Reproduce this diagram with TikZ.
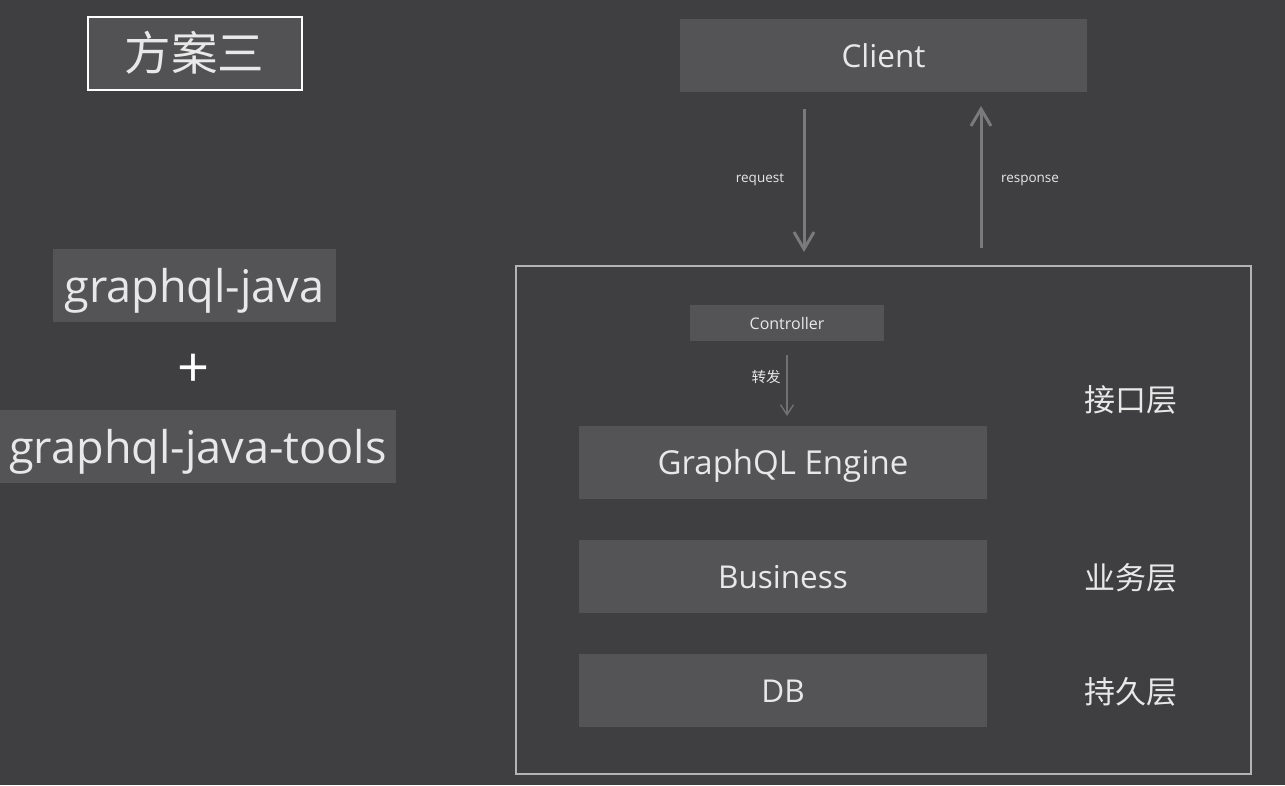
\documentclass[tikz,border=0pt]{standalone}
\usepackage{fontspec}
\usepackage{xcolor}
\usetikzlibrary{arrows.meta}
\setmainfont{Open Sans}
\newfontfamily\cjk{Noto Sans CJK SC}
\definecolor{bg}{HTML}{3F3E40}
\definecolor{boxfill}{HTML}{545456}
\definecolor{txt}{HTML}{E8E8E8}
\definecolor{arrowgray}{HTML}{7A7A7C}
\definecolor{framegray}{HTML}{B4B4B4}
\tikzset{
  layerbox/.style={fill=boxfill, text=txt, minimum width=408pt, minimum height=73pt, inner sep=0pt, text height=23pt, text depth=0pt, font=\fontsize{31.5}{31.5}\selectfont},
  libbox/.style={fill=boxfill, text=txt, minimum height=73pt, inner sep=0pt, text height=33pt, text depth=0pt, font=\fontsize{45}{45}\selectfont},
  layername/.style={text=txt, font=\cjk\fontsize{31}{31}\selectfont},
  bigarrow/.style={draw=arrowgray, line width=3pt, -{Straight Barb[length=17pt,width=20pt]}},
  smallarrow/.style={draw=arrowgray!85!bg, line width=1.4pt, -{Straight Barb[length=10pt,width=13pt]}},
  arrowlabel/.style={text=txt, font=\fontsize{13.5}{13.5}\selectfont}
}

\begin{document}
\begin{tikzpicture}[x=1pt, y=-1pt]
    \fill[bg] (0,0) rectangle (1285,785);
    \useasboundingbox (0,0) rectangle (1285,785);

    % left column
    \node[draw=white, line width=2pt, fill=boxfill!92!bg, text=txt, minimum width=214pt, minimum height=73pt, font=\cjk\fontsize{46.5}{46.5}\selectfont] (Title) at (194.5,53) {方案三};
    \node[libbox, minimum width=283pt] (Java) at (194.5,285.5) {graphql-java};
    \node[text=white, font=\fontsize{56}{56}\selectfont] (Plus) at (194,371) {+};
    \node[libbox, minimum width=396pt] (Tools) at (198,446.5) {graphql-java-tools};

    % client
    \node[layerbox, minimum width=407pt] (Client) at (883.5,55.5) {Client};

    \coordinate (Req) at (804,109);
    \coordinate (Reqe) at (804,252);
    \coordinate (Res) at (981,248);
    \coordinate (Rese) at (981,106);

    \draw[bigarrow] (Req) -- (Reqe);
    \draw[bigarrow] (Res) -- (Rese);
    \node[arrowlabel] (ReqL) at (760,180) {request};
    \node[arrowlabel] (ResL) at (1030,180) {response};

    % server
    \node[draw=framegray, line width=1.5pt, minimum width=735pt, minimum height=508pt] (Server) at (883.5,520) {};

    \node[fill=boxfill, text=txt, minimum width=194pt, minimum height=36pt, inner sep=0pt, font=\fontsize{16}{16}\selectfont] (Ctrl) at (787,323) {Controller};
    \coordinate (Fwd) at (787,355);
    \coordinate (Fwde) at (787,416);
    \draw[smallarrow] (Fwd) -- (Fwde);
    \node[text=txt, font=\cjk\fontsize{14.5}{14.5}\selectfont] (FwdL) at (766,377) {转发};

    \node[layerbox, font=\fontsize{33}{33}\selectfont] (Engine) at (783,462.5) {GraphQL Engine};
    \node[layerbox] (Biz) at (783,576.5) {Business};
    \node[layerbox] (DB) at (783,690.5) {DB};

    \node[layername] (Api) at (1131,400) {接口层};
    \node[layername] (Svc) at (1131,578) {业务层};
    \node[layername] (Dao) at (1131,692) {持久层};

  \end{tikzpicture}
\end{document}
